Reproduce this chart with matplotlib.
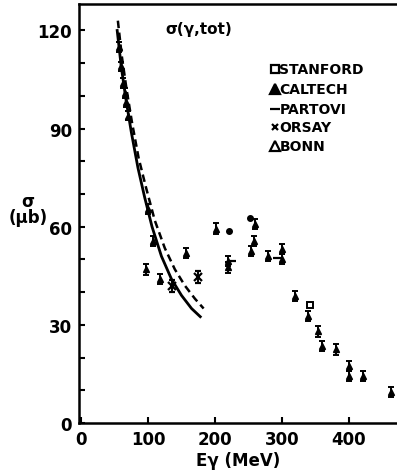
import matplotlib
matplotlib.use("Agg")
import matplotlib.pyplot as plt
from matplotlib.ticker import MultipleLocator

plt.rcParams['font.family'] = ['DejaVu Sans']
plt.rcParams['font.weight'] = 'bold'

# theory curves
solid_E = [54, 60, 67, 75, 85, 95, 106, 120, 135, 150, 165, 178]
solid_s = [120, 109, 99, 89, 78, 69, 60, 51, 44, 39, 35, 32.5]
dash_E = [55, 61, 68, 76, 86, 97, 110, 125, 140, 155, 170, 183]
dash_s = [123, 112, 102, 92, 81, 72, 62, 53.5, 47, 42, 38, 35]

# measurements
caltech_E = [57, 60, 63, 65, 67, 70, 100, 108]
caltech_s = [115, 109, 104, 101, 98, 94, 65.5, 55.7]
orsay_E = [136, 175]
orsay_s = [42, 44.7]
stanford_E = [342]
stanford_s = [36]
dots_E = [221, 252]
dots_s = [58.7, 62.7]
bonn_E = [97, 118, 157, 201, 219, 219, 253, 258, 259, 279, 300, 300,
          319, 339, 353, 360, 381, 400, 400, 421, 463]
bonn_s = [47, 44, 52, 59.4, 49.6, 47.6, 52.6, 55.7, 60.9, 51, 53.2, 50.2,
          38.8, 32.7, 28, 23.6, 22.5, 17.5, 14.4, 14.4, 9.5]
partovi_E = [226, 292]
partovi_s = [49.6, 50.4]

legend_labels = ['STANFORD', 'CALTECH', 'PARTOVI', 'ORSAY', 'BONN']

fig = plt.figure(figsize=(3.97, 4.77), dpi=100)
ax = fig.add_axes([79 / 397, 53 / 477, 1 - 79 / 397, 419 / 477])

ax.plot(solid_E, solid_s, color='black', lw=2)
ax.plot(dash_E, dash_s, color='black', lw=1.8, dashes=(3, 1.8))

err = dict(color='black', elinewidth=1.4, capsize=2, capthick=1.4, ls='none')
ax.errorbar(caltech_E, caltech_s, yerr=1.5, marker='^', ms=4, **err)
ax.errorbar(bonn_E, bonn_s, yerr=1.6, marker='^', ms=4, **err)
ax.errorbar(orsay_E, orsay_s, yerr=1.8, marker='x', ms=6, mew=1.6, **err)
ax.plot(stanford_E, stanford_s, 's', ms=4, mfc='white', mec='black', mew=1.4)
ax.plot(dots_E, dots_s, 'o', ms=4, color='black')
ax.plot(partovi_E, partovi_s, '_', ms=6, mew=1.6, color='black')

# hand-drawn style legend
leg_s = [108.3, 102.1, 96.0, 90.5, 84.7]
leg_markers = [dict(marker='s', mfc='white', ms=5.5),
               dict(marker='^', mfc='black', ms=7),
               dict(marker='_', ms=7),
               dict(marker='x', ms=5),
               dict(marker='^', mfc='white', ms=7)]
for y, lab, mk in zip(leg_s, legend_labels, leg_markers):
    ax.plot([289], [y], color='black', mec='black', mew=1.6, ls='none', **mk)
    ax.text(296, y, lab, fontsize=10, fontweight='bold', va='center',
            ha='left', fontstretch='expanded')

ax.text(175, 120.5, 'σ(γ,tot)', fontsize=11, fontweight='bold',
        ha='center', va='center')

ax.set_xlim(-3, 471.6)
ax.set_ylim(0, 128.1)
ax.xaxis.set_major_locator(MultipleLocator(100))
ax.yaxis.set_major_locator(MultipleLocator(30))
ax.yaxis.set_minor_locator(MultipleLocator(10))
ax.tick_params(which='both', direction='in', length=4, width=1.5,
               labelsize=12, pad=5)
for lab in ax.get_xticklabels() + ax.get_yticklabels():
    lab.set_fontweight('bold')
ax.spines['right'].set_visible(False)
for sp in ['left', 'bottom', 'top']:
    ax.spines[sp].set_linewidth(1.8)

ax.set_xlabel('Eγ (MeV)', fontsize=12, fontweight='bold', labelpad=2)
fig.text(28 / 397, 1 - 210 / 477, 'σ\n(μb)', fontsize=12, fontweight='bold',
         ha='center', va='center', linespacing=0.9)

fig.savefig('out.png', dpi=100)
